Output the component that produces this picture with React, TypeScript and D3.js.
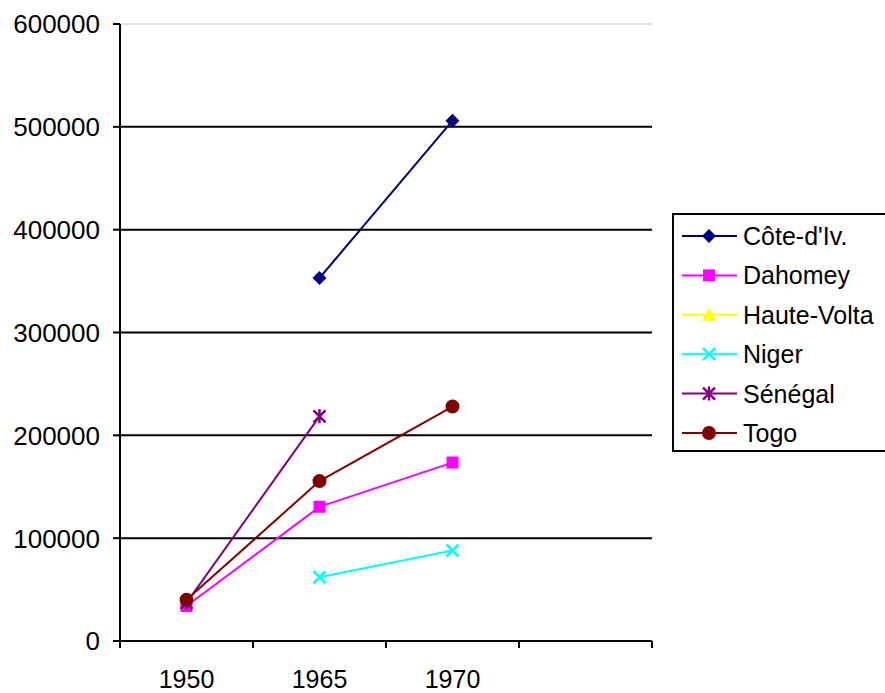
import React from "react";
import * as d3 from "d3";

const categories = ["1950", "1965", "1970", ""];
const seriesNames = ["Côte-d'Iv.", "Dahomey", "Haute-Volta", "Niger", "Sénégal", "Togo"];
const coteIvoire: (number | null)[] = [null, 353000, 506000, null];
const dahomey: (number | null)[] = [34000, 130500, 173500, null];
const hauteVolta: (number | null)[] = [null, null, null, null];
const niger: (number | null)[] = [null, 62000, 88000, null];
const senegal: (number | null)[] = [37000, 218500, null, null];
const togo: (number | null)[] = [40000, 155500, 228000, null];
const yTicks = [0, 100000, 200000, 300000, 400000, 500000, 600000];

const colors = ["#000080", "#FF00FF", "#FFFF00", "#00FFFF", "#800080", "#800000"];
const markers = ["diamond", "square", "triangle", "x", "star", "circle"];
const allSeries = [coteIvoire, dahomey, hauteVolta, niger, senegal, togo];

const W = 885, H = 693;
const left = 120, right = 652, top = 24, bottom = 641;

function Marker({ type, x, y, color }: { type: string; x: number; y: number; color: string }) {
  switch (type) {
    case "diamond":
      return <path d={`M${x},${y - 7}L${x + 7},${y}L${x},${y + 7}L${x - 7},${y}Z`} fill={color} />;
    case "square":
      return <rect x={x - 6} y={y - 6} width={12} height={12} fill={color} />;
    case "triangle":
      return <path d={`M${x},${y - 7}L${x + 7},${y + 6}L${x - 7},${y + 6}Z`} fill={color} />;
    case "x":
      return <path d={`M${x - 6},${y - 6}L${x + 6},${y + 6}M${x - 6},${y + 6}L${x + 6},${y - 6}`} stroke={color} strokeWidth={2.5} />;
    case "star":
      return (
        <path
          d={`M${x - 6},${y - 6}L${x + 6},${y + 6}M${x - 6},${y + 6}L${x + 6},${y - 6}M${x},${y - 7}L${x},${y + 7}`}
          stroke={color}
          strokeWidth={2.5}
        />
      );
    default:
      return <circle cx={x} cy={y} r={7} fill={color} />;
  }
}

export default function App() {
  const x = d3.scaleBand<string>().domain(categories.map((c, i) => String(i))).range([left, right]);
  const y = d3.scaleLinear().domain([0, 600000]).range([bottom, top]);
  const cx = (i: number) => (x(String(i)) as number) + x.bandwidth() / 2;
  const line = d3
    .line<number | null>()
    .defined((d) => d !== null)
    .x((_, i) => cx(i))
    .y((d) => y(d as number));
  const font = "Arial, 'Liberation Sans', sans-serif";
  const tickXs = categories.map((_, i) => x(String(i)) as number).concat([right]);

  return (
    <svg width={W} height={H} style={{ position: "absolute", left: 0, top: 0 }} fontFamily={font}>
      {yTicks.map((t) => (
        <line
          key={"g" + t}
          x1={left}
          x2={right}
          y1={y(t)}
          y2={y(t)}
          stroke={t === 600000 ? "#c0c0c0" : t === 0 ? "none" : "#000"}
          strokeWidth={t === 600000 ? 1 : 2}
        />
      ))}
      <line x1={left} x2={left} y1={top} y2={bottom + 7} stroke="#000" strokeWidth={2} />
      <line x1={left - 7} x2={right} y1={bottom} y2={bottom} stroke="#000" strokeWidth={2} />
      {yTicks.map((t) => (
        <g key={"t" + t}>
          <line x1={left - 7} x2={left} y1={y(t)} y2={y(t)} stroke="#000" strokeWidth={2} />
          <text x={100} y={y(t)} dy="0.36em" textAnchor="end" fontSize={26} fill="#000">
            {t}
          </text>
        </g>
      ))}
      {tickXs.map((tx, i) => (
        <line key={"xt" + i} x1={tx} x2={tx} y1={bottom} y2={bottom + 7} stroke="#000" strokeWidth={2} />
      ))}
      {categories.map((c, i) => (
        <text key={"xl" + i} x={cx(i)} y={688} textAnchor="middle" fontSize={25} fill="#000">
          {c}
        </text>
      ))}
      {allSeries.map((s, si) => (
        <g key={"s" + si}>
          <path d={line(s) || ""} fill="none" stroke={colors[si]} strokeWidth={2} />
          {s.map((v, i) =>
            v === null ? null : <Marker key={i} type={markers[si]} x={cx(i)} y={y(v)} color={colors[si]} />
          )}
        </g>
      ))}
      <rect x={673} y={214} width={213} height={237} fill="#fff" stroke="#000" strokeWidth={2} />
      {seriesNames.map((n, i) => {
        const ly = 236 + i * 39.4;
        return (
          <g key={"l" + i}>
            <line x1={682} x2={737} y1={ly} y2={ly} stroke={colors[i]} strokeWidth={2} />
            <Marker type={markers[i]} x={709} y={ly} color={colors[i]} />
            <text x={743} y={ly} dy="0.36em" fontSize={25} fill="#000">
              {n}
            </text>
          </g>
        );
      })}
    </svg>
  );
}
